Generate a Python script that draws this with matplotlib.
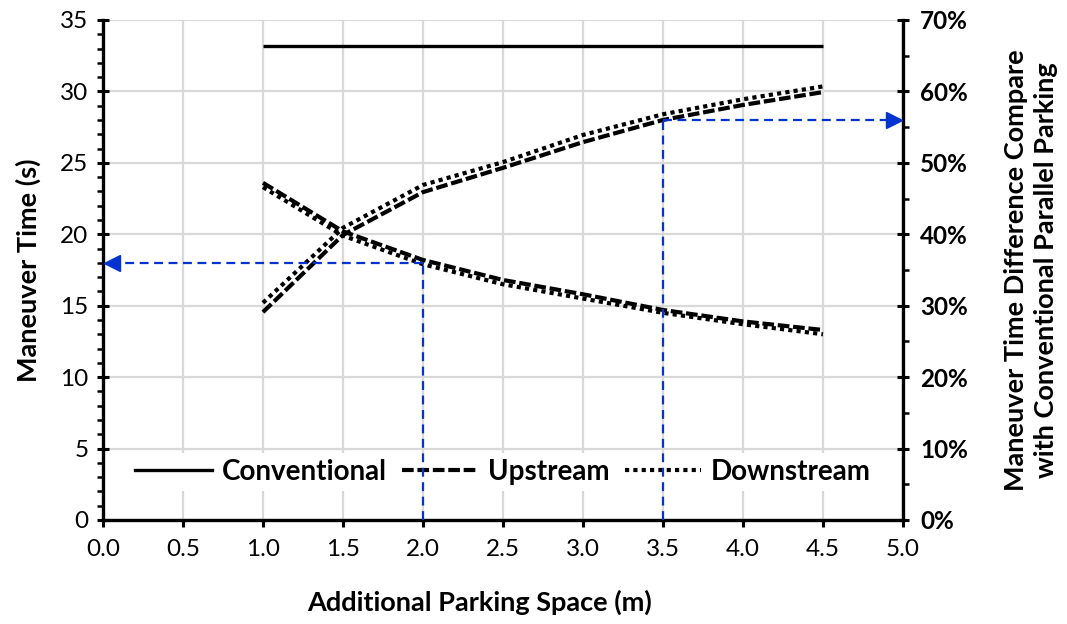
import matplotlib
matplotlib.use("Agg")
import matplotlib.pyplot as plt
from matplotlib.ticker import MultipleLocator, FuncFormatter
from matplotlib.lines import Line2D

plt.rcParams['font.family'] = ['Lato', 'DejaVu Sans']

# Additional parking space (m)
space = [1.0, 1.5, 2.0, 2.5, 3.0, 3.5, 4.0, 4.5]

# Maneuver time (s)
conventional_time = [33.2, 33.2, 33.2, 33.2, 33.2, 33.2, 33.2, 33.2]
upstream_time = [23.6, 20.2, 18.2, 16.8, 15.8, 14.7, 13.9, 13.3]
downstream_time = [23.3, 19.9, 17.9, 16.5, 15.5, 14.5, 13.7, 13.0]

# Maneuver time difference vs. conventional parallel parking (%)
upstream_diff = [29.1, 39.9, 45.9, 49.3, 52.9, 56.0, 58.1, 59.9]
downstream_diff = [30.4, 40.9, 46.9, 50.1, 53.9, 56.8, 58.9, 60.7]

# Reading guides
guide_time_x = 2.0
guide_time_y = 18.0
guide_diff_x = 3.5
guide_diff_y = 56.0

BLUE = '#0433d0'
GRID = '#d9d9d9'
TICK_SIZE = 17.5
LABEL_SIZE = 19.5

fig = plt.figure(figsize=(10.67, 6.24), dpi=100)
ax = fig.add_axes([0.0965, 0.1667, 0.7498, 0.8013])
ax2 = ax.twinx()

dash_style = (0, (2.8, 0.9))
dot_style = (0, (1.0, 1.0))
lw_curve = 3.0

ax.plot(space, conventional_time, color='black', lw=2.4, solid_capstyle='butt', zorder=3)
ax.plot(space, upstream_time, color='black', lw=lw_curve, linestyle=dash_style, zorder=3)
ax.plot(space, downstream_time, color='black', lw=lw_curve, linestyle=dot_style, zorder=3)

ax2.plot(space, upstream_diff, color='black', lw=lw_curve, linestyle=dash_style, zorder=3)
ax2.plot(space, downstream_diff, color='black', lw=lw_curve, linestyle=dot_style, zorder=3)

ax.set_xlim(0, 5)
ax.set_ylim(0, 35)
ax2.set_ylim(0, 70)

ax.xaxis.set_major_locator(MultipleLocator(0.5))
ax.yaxis.set_major_locator(MultipleLocator(5))
ax.yaxis.set_minor_locator(MultipleLocator(1))
ax2.yaxis.set_major_locator(MultipleLocator(10))
ax2.yaxis.set_minor_locator(MultipleLocator(5))
ax.xaxis.set_major_formatter(FuncFormatter(lambda v, p: f"{v:.1f}"))
ax2.yaxis.set_major_formatter(FuncFormatter(lambda v, p: f"{v:.0f}%"))

ax.grid(True, which='major', color=GRID, lw=1.6, zorder=0)
ax.set_axisbelow(True)

for a in (ax, ax2):
    a.spines['top'].set_visible(False)
ax.spines['right'].set_visible(False)
ax2.spines['left'].set_visible(False)
ax2.spines['bottom'].set_visible(False)
for s in ('left', 'bottom'):
    ax.spines[s].set_linewidth(2.4)
ax2.spines['right'].set_linewidth(2.4)

ax.tick_params(axis='x', which='major', direction='out', length=5, width=2.2,
               labelsize=TICK_SIZE, pad=9, colors='black')
ax.tick_params(axis='y', which='major', direction='inout', length=9, width=2.2,
               labelsize=TICK_SIZE, pad=6)
ax.tick_params(axis='y', which='minor', direction='out', length=4.5, width=1.8)
ax2.tick_params(axis='y', which='major', direction='inout', length=9, width=2.2,
                labelsize=TICK_SIZE, pad=8)
ax2.tick_params(axis='y', which='minor', direction='out', length=4.5, width=1.8)
for lab in ax2.get_yticklabels():
    lab.set_fontweight('bold')

ax.set_xlabel('Additional Parking Space (m)', fontsize=LABEL_SIZE, fontweight='bold', labelpad=12)
ax.xaxis.set_label_coords(0.471, -0.14)
ax.xaxis.label.set_va('top')
ax.set_ylabel('Maneuver Time (s)', fontsize=LABEL_SIZE, fontweight='bold', labelpad=14)
ax2.set_ylabel('Maneuver Time Difference Compare\nwith Conventional Parallel Parking',
               fontsize=LABEL_SIZE, fontweight='bold', labelpad=26, linespacing=1.3)

# Legend
handles = [
    Line2D([], [], color='black', lw=2.4),
    Line2D([], [], color='black', lw=lw_curve, linestyle=dash_style),
    Line2D([], [], color='black', lw=lw_curve, linestyle=dot_style),
]
leg = ax2.legend(handles, ['Conventional', 'Upstream', 'Downstream'], ncol=3,
                 loc='center', bbox_to_anchor=(0.5, 0.096), frameon=True,
                 prop={'weight': 'bold', 'size': 20}, handlelength=2.75,
                 handletextpad=0.35, columnspacing=0.55, borderpad=0.2)
leg.get_frame().set_facecolor('white')
leg.get_frame().set_edgecolor('none')
leg.get_frame().set_alpha(1.0)
leg.set_zorder(5)

# Blue reading guides, drawn in time units on top of everything
tr = ax.transData
guide_kw = dict(color=BLUE, lw=1.6, linestyle=(0, (4, 2.5)), zorder=7, transform=tr)
ax2.plot([guide_time_x, guide_time_x], [0, guide_time_y], **guide_kw)
ax2.plot([guide_time_x, 0.08], [guide_time_y, guide_time_y], **guide_kw)
ax2.plot([0.055], [guide_time_y], marker='<', ms=12, color=BLUE, mec=BLUE,
         zorder=8, transform=tr, clip_on=False)

diff_in_time = guide_diff_y / 2.0
ax2.plot([guide_diff_x, guide_diff_x], [0, diff_in_time], **guide_kw)
ax2.plot([guide_diff_x, 4.92], [diff_in_time, diff_in_time], **guide_kw)
ax2.plot([4.945], [diff_in_time], marker='>', ms=12, color=BLUE, mec=BLUE,
         zorder=8, transform=tr, clip_on=False)

fig.savefig('out.png', dpi=100)
